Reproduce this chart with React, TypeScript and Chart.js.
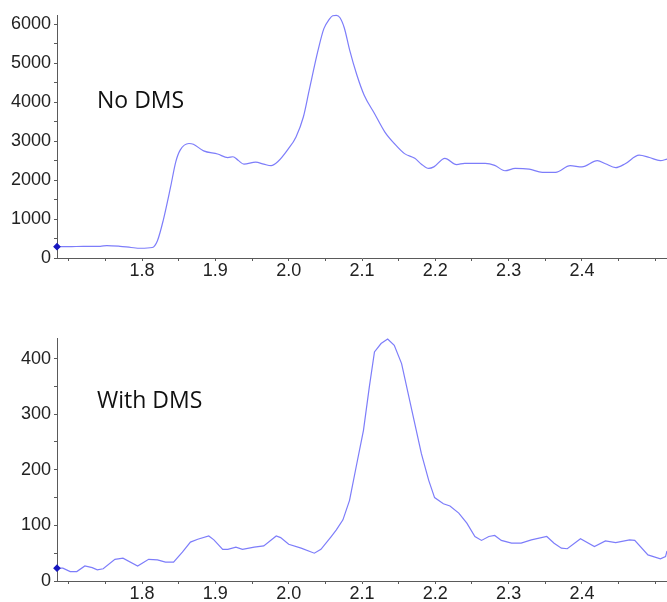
import React, { useEffect, useRef } from "react";
import { Chart, registerables } from "chart.js";
Chart.register(...registerables);

const X_MIN = 1.684;
const X_MAX = 2.516;

const noDmsX = [1.684, 1.700, 1.720, 1.743, 1.752, 1.770, 1.785, 1.798, 1.814, 1.821, 1.829, 1.839, 1.846, 1.852, 1.864, 1.870, 1.884, 1.903, 1.917, 1.924, 1.931, 1.939, 1.955, 1.966, 1.976, 1.985, 1.999, 2.010, 2.020, 2.028, 2.040, 2.048, 2.055, 2.060, 2.065, 2.070, 2.076, 2.083, 2.093, 2.103, 2.117, 2.131, 2.144, 2.158, 2.172, 2.181, 2.191, 2.198, 2.213, 2.229, 2.240, 2.268, 2.281, 2.295, 2.309, 2.328, 2.346, 2.364, 2.384, 2.400, 2.421, 2.432, 2.446, 2.459, 2.478, 2.492, 2.507, 2.516];
const noDmsY = [290, 290, 300, 300, 320, 300, 270, 250, 270, 445, 975, 1830, 2470, 2770, 2940, 2920, 2750, 2670, 2580, 2600, 2510, 2410, 2460, 2410, 2370, 2470, 2790, 3110, 3620, 4310, 5330, 5890, 6120, 6220, 6230, 6170, 5900, 5350, 4700, 4180, 3710, 3240, 2940, 2680, 2560, 2410, 2300, 2340, 2560, 2400, 2430, 2430, 2380, 2240, 2300, 2280, 2200, 2200, 2370, 2340, 2500, 2420, 2320, 2420, 2640, 2580, 2500, 2540];

const withDmsX = [1.684, 1.692, 1.702, 1.711, 1.722, 1.732, 1.739, 1.747, 1.763, 1.774, 1.794, 1.809, 1.821, 1.832, 1.843, 1.855, 1.866, 1.876, 1.891, 1.898, 1.910, 1.917, 1.928, 1.937, 1.953, 1.966, 1.983, 1.989, 2.000, 2.017, 2.035, 2.044, 2.058, 2.065, 2.074, 2.083, 2.092, 2.102, 2.110, 2.117, 2.126, 2.135, 2.144, 2.154, 2.168, 2.181, 2.191, 2.199, 2.211, 2.220, 2.232, 2.243, 2.254, 2.263, 2.273, 2.281, 2.290, 2.304, 2.317, 2.331, 2.352, 2.362, 2.372, 2.380, 2.398, 2.417, 2.432, 2.446, 2.465, 2.472, 2.490, 2.507, 2.514, 2.516];
const withDmsY = [23, 23, 17, 17, 27, 24, 20, 22, 39, 41, 27, 39, 38, 34, 34, 52, 70, 75, 81, 74, 57, 57, 61, 57, 61, 63, 81, 78, 66, 59, 50, 57, 80, 92, 110, 145, 205, 271, 349, 412, 427, 435, 424, 391, 307, 229, 181, 150, 139, 135, 122, 104, 80, 73, 80, 82, 73, 68, 68, 74, 80, 68, 59, 58, 76, 62, 72, 69, 74, 73, 47, 40, 44, 54];

const xTickValues = [1.7, 1.75, 1.8, 1.85, 1.9, 1.95, 2.0, 2.05, 2.1, 2.15, 2.2, 2.25, 2.3, 2.35, 2.4, 2.45, 2.5];
const xTickLabels = ["1.8", "1.9", "2.0", "2.1", "2.2", "2.3", "2.4"];
const noDmsYTicks = [0, 500, 1000, 1500, 2000, 2500, 3000, 3500, 4000, 4500, 5000, 5500, 6000];
const noDmsYLabels = ["0", "1000", "2000", "3000", "4000", "5000", "6000"];
const withDmsYTicks = [0, 50, 100, 150, 200, 250, 300, 350, 400];
const withDmsYLabels = ["0", "100", "200", "300", "400"];
const noDmsLabel = "No DMS";
const withDmsLabel = "With DMS";

const AXIS = "#5a5a5a";
const LINE = "#7d7dfa";
const TICKFONT = { family: '"Liberation Sans", Arial, sans-serif', size: 18, lineHeight: 1 };

function build(
  canvas: HTMLCanvasElement,
  xs: number[],
  ys: number[],
  yMax: number,
  yTicks: number[],
  yLabels: string[],
  label: string,
  topPad: number,
  xAxisH: number,
  tension: number
) {
  const textPlugin = {
    id: "annot",
    afterDraw(chart: any) {
      const ctx = chart.ctx;
      ctx.save();
      ctx.font = '23px "Open Sans", sans-serif';
      ctx.fillStyle = "#111";
      ctx.textBaseline = "alphabetic";
      ctx.textAlign = "left";
      ctx.fillText(label, 97, 108);
      ctx.restore();
    },
  };
  return new Chart(canvas, {
    type: "line",
    data: {
      datasets: [
        {
          data: xs.map((x, i) => ({ x, y: ys[i] })),
          borderColor: LINE,
          borderWidth: 1.2,
          tension,
          cubicInterpolationMode: tension > 0 ? "monotone" : "default",
          pointRadius: (c: any) => (c.dataIndex === 0 ? 3 : 0),
          pointHoverRadius: 0,
          pointStyle: "rectRot",
          pointBackgroundColor: "#1818c0",
          pointBorderColor: "#1818c0",
          fill: false,
          clip: false as any,
        },
      ],
    },
    options: {
      responsive: false,
      animation: false,
      events: [],
      layout: { autoPadding: false, padding: { top: topPad, left: 0, right: 0, bottom: 0 } },
      plugins: { legend: { display: false }, tooltip: { enabled: false } },
      scales: {
        x: {
          type: "linear",
          min: X_MIN,
          max: X_MAX,
          afterBuildTicks: (s: any) => {
            s.ticks = xTickValues.map((v) => ({ value: v }));
          },
          afterFit: (s: any) => {
            s.height = xAxisH;
          },
          border: { color: AXIS, width: 1 },
          grid: { drawOnChartArea: false, drawTicks: true, tickLength: 3, tickColor: AXIS },
          ticks: {
            autoSkip: false,
            maxRotation: 0,
            padding: 1,
            color: "#222",
            font: TICKFONT,
            callback: (v: any) => {
              const s = Number(v).toFixed(2);
              const t = Number(v).toFixed(1);
              return s.endsWith("0") && xTickLabels.includes(t) ? t : "";
            },
          },
        },
        y: {
          type: "linear",
          min: 0,
          max: yMax,
          afterBuildTicks: (s: any) => {
            s.ticks = yTicks.map((v) => ({ value: v }));
          },
          afterFit: (s: any) => {
            s.width = 57;
          },
          border: { color: AXIS, width: 1 },
          grid: { drawOnChartArea: false, drawTicks: true, tickLength: 3, tickColor: AXIS },
          ticks: {
            autoSkip: false,
            padding: 3,
            color: "#222",
            font: TICKFONT,
            callback: (v: any) => {
              const s = String(Math.round(Number(v)));
              return yLabels.includes(s) ? s : "";
            },
          },
        },
      },
    },
    plugins: [textPlugin],
  } as any);
}

export default function App() {
  const ref1 = useRef<HTMLCanvasElement>(null);
  const ref2 = useRef<HTMLCanvasElement>(null);
  useEffect(() => {
    const c1 = build(ref1.current!, noDmsX, noDmsY, 6240, noDmsYTicks, noDmsYLabels, noDmsLabel, 15, 32, 0.3);
    const c2 = build(ref2.current!, withDmsX, withDmsY, 437, withDmsYTicks, withDmsYLabels, withDmsLabel, 38, 21, 0);
    return () => {
      c1.destroy();
      c2.destroy();
    };
  }, []);
  return (
    <div style={{ position: "fixed", left: 0, top: 0, width: 667, height: 602, background: "#fff" }}>
      <canvas ref={ref1} width={667} height={290} style={{ position: "absolute", left: 0, top: 0, width: 667, height: 290 }} />
      <canvas ref={ref2} width={667} height={302} style={{ position: "absolute", left: 0, top: 300, width: 667, height: 302 }} />
    </div>
  );
}
